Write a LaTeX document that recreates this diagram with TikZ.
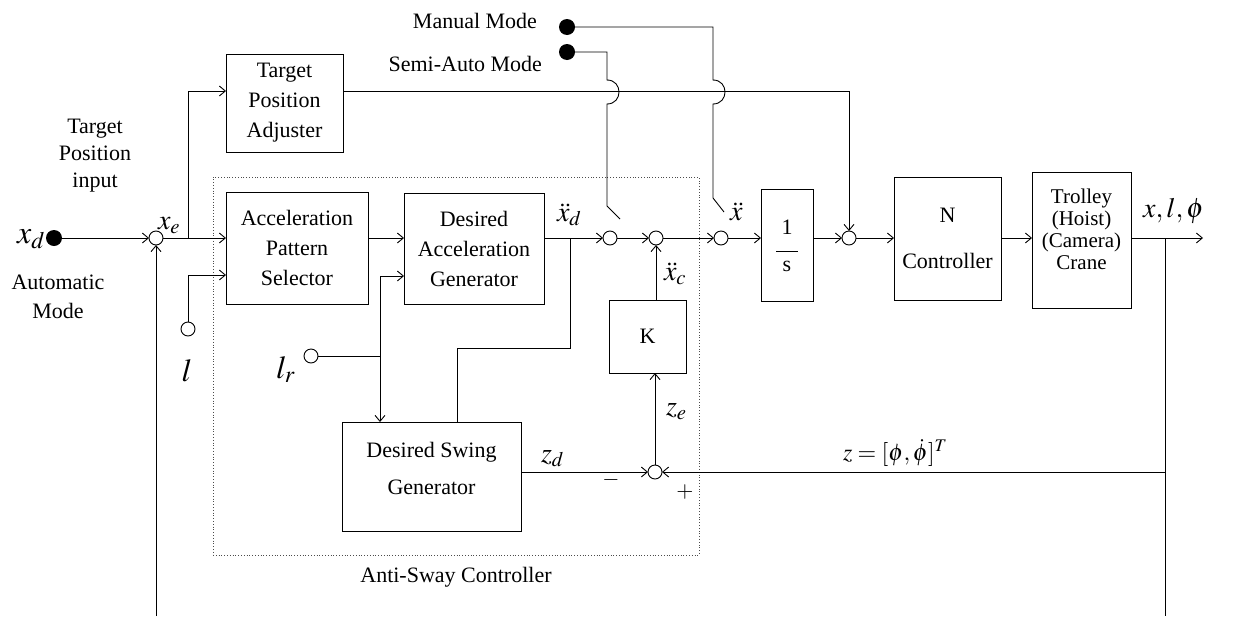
\documentclass[tikz,border=0pt]{standalone}
\usepackage{mathptmx}
\usepackage{fontspec}
\setmainfont{Liberation Serif}
\usetikzlibrary{arrows.meta,calc}
\begin{document}
\begin{tikzpicture}[x=1pt,y=-1pt,
  every node/.style={inner sep=0pt, outer sep=0pt},
  box/.style={draw, line width=0.9pt, align=center, font=\fontsize{22}{30}\selectfont},
  sumc/.style={draw, circle, minimum size=14pt, line width=0.9pt},
  term/.style={fill, circle, minimum size=16pt},
  lbl/.style={font=\fontsize{22}{28}\selectfont, align=center},
  mlab/.style={font=\fontsize{28}{30}\selectfont},
  blab/.style={font=\fontsize{32}{32}\selectfont},
  wire/.style={line width=0.9pt},
  arr/.style={wire, -{Straight Barb[length=6pt,width=10pt]}},
  frame/.style={draw, dotted, line width=0.8pt, black!70}
]
\useasboundingbox (0,0) rectangle (1246,616);

% dotted frame
\node[frame, minimum width=486pt, minimum height=378pt] (asc) at (456,366) {};
\node[lbl] (asclab) at (456,577) {Anti-Sway Controller};

% blocks
\node[box, minimum width=117pt, minimum height=98pt] (tpa) at (284.5,103) {Target\\Position\\Adjuster};
\node[box, minimum width=142pt, minimum height=112pt] (aps) at (297,248) {Acceleration\\Pattern\\Selector};
\node[box, minimum width=140pt, minimum height=111pt] (dag) at (474,248.5) {Desired\\Acceleration\\Generator};
\node[box, minimum width=179pt, minimum height=109pt] (dsg) at (431.5,476.5) {};
\node[lbl] (dsgt) at (431.5,468) {Desired Swing\\[9pt]Generator};
\node[box, minimum width=77pt, minimum height=73pt] (kbox) at (647.5,336.5) {K};
\node[box, minimum width=52pt, minimum height=112pt] (integ) at (787,245) {};
\node[lbl] (inum) at (787,227) {1};
\node[lbl] (iden) at (787,266) {s};
\draw[wire] (776,251) -- (798,251);
\node[box, minimum width=107pt, minimum height=123pt] (ncon) at (947.5,238.5) {N\\[16pt]Controller};
\node[box, minimum width=99pt, minimum height=136pt] (plant) at (1081.5,240) {};
\node[align=center, font=\fontsize{21}{22}\selectfont] (plantt) at (1081.5,229) {Trolley\\(Hoist)\\(Camera)\\Crane};

% junctions and terminals
\node[sumc] (s1) at (156,238) {};
\node[sumc] (sa) at (610,238) {};
\node[sumc] (sb) at (656,238) {};
\node[sumc] (sc) at (721,238) {};
\node[sumc] (sd) at (849,238) {};
\node[sumc] (se) at (655,472) {};
\node[sumc] (lc) at (188,329) {};
\node[sumc] (lrc) at (311,356) {};
\node[term] (xd) at (54,238) {};
\node[term] (man) at (567,27) {};
\node[term] (semi) at (567,52) {};

\coordinate (br1) at (188,238);
\coordinate (out) at (1203,238);
\coordinate (fbr) at (1165,238);
\coordinate (fbot) at (1165,616);
\coordinate (lbot) at (156,616);
\coordinate (j1) at (380,356);
\coordinate (dagout) at (570,238);
\coordinate (semiend) at (620,219);
\coordinate (manend) at (724,212);

% text labels
\node[lbl, anchor=base east] (mantxt) at (537,28) {Manual Mode};
\node[lbl, anchor=base east] (semitxt) at (542,71) {Semi-Auto Mode};
\node[lbl, font=\fontsize{22}{27}\selectfont] (tpin) at (95,156) {Target\\Position\\input};
\node[lbl, font=\fontsize{22}{29}\selectfont] (automode) at (58,297) {Automatic\\Mode};

% math labels
\node[blab, anchor=base east] (xdl) at (45,243) {$x_d$};
\node[mlab, anchor=base west] (xel) at (158,229) {$x_e$};
\node[blab, anchor=base] (ll) at (187,381) {$l$};
\node[blab, anchor=base west] (lrl) at (276,378) {$l_r$};
\node[mlab, anchor=base west] (xddl) at (557,221) {$\ddot{x}_d$};
\node[mlab, anchor=base west] (xdd) at (730,220) {$\ddot{x}$};
\node[mlab, anchor=base west] (xcl) at (664,280) {$\ddot{x}_c$};
\node[mlab, anchor=base west] (zel) at (666,415) {$z_e$};
\node[mlab, anchor=base west] (zdl) at (541,462) {$z_d$};
\node[lbl] (minus) at (611,480) {$-$};
\node[lbl] (plus) at (685,492) {$+$};
\node[font=\fontsize{24}{24}\selectfont, anchor=base west] (zlab) at (843,460) {$z=[\phi,\dot{\phi}]^T$};
\node[mlab, anchor=base west] (outl) at (1143,217) {$x,l,\phi$};

% connectors
\draw[arr] (xd) -- (s1);
\draw[arr] (s1) -- (aps.west |- s1);
\draw[arr] (br1) |- (tpa.west |- 0,91);
\draw[arr] (lc) |- (aps.west |- 0,275);
\draw[arr] (aps.east |- s1) -- (dag.west |- s1);
\draw[wire] (lrc) -- (j1);
\draw[arr] (j1) |- (dag.west |- 0,276);
\draw[arr] (j1) -- (dsg.north -| j1);
\draw[wire] (dagout) -- (570,348) -| (dsg.north -| 457,0);
\draw[arr] (dag.east |- s1) -- (sa);
\draw[arr] (sa) -- (sb);
\draw[arr] (sb) -- (sc);
\draw[arr] (sc) -- (integ.west |- sc);
\draw[arr] (integ.east |- sd) -- (sd);
\draw[arr] (sd) -- (ncon.west |- sd);
\draw[arr] (ncon.east |- sd) -- (plant.west |- sd);
\draw[arr] (plant.east |- sd) -- (out);
\draw[wire] (fbr) -- (fbot);
\draw[arr] (fbr |- se) -- (se);
\draw[arr] (lbot) -- (s1);
\draw[arr] (dsg.east |- se) -- (se);
\draw[arr] (se) -- (kbox.south -| se);
\draw[arr] (kbox.north -| sb) -- (sb);
\draw[arr] (tpa.east |- 0,91) -| (sd);
\draw[wire] (semi) -- (607,52) -- (607,80) .. controls (623,80) and (623,104) .. (607,104) -- (607,206) -- (semiend);
\draw[wire] (man) -- (713,27) -- (713,80) .. controls (729,80) and (729,104) .. (713,104) -- (713,198) -- (manend);
\end{tikzpicture}
\end{document}
